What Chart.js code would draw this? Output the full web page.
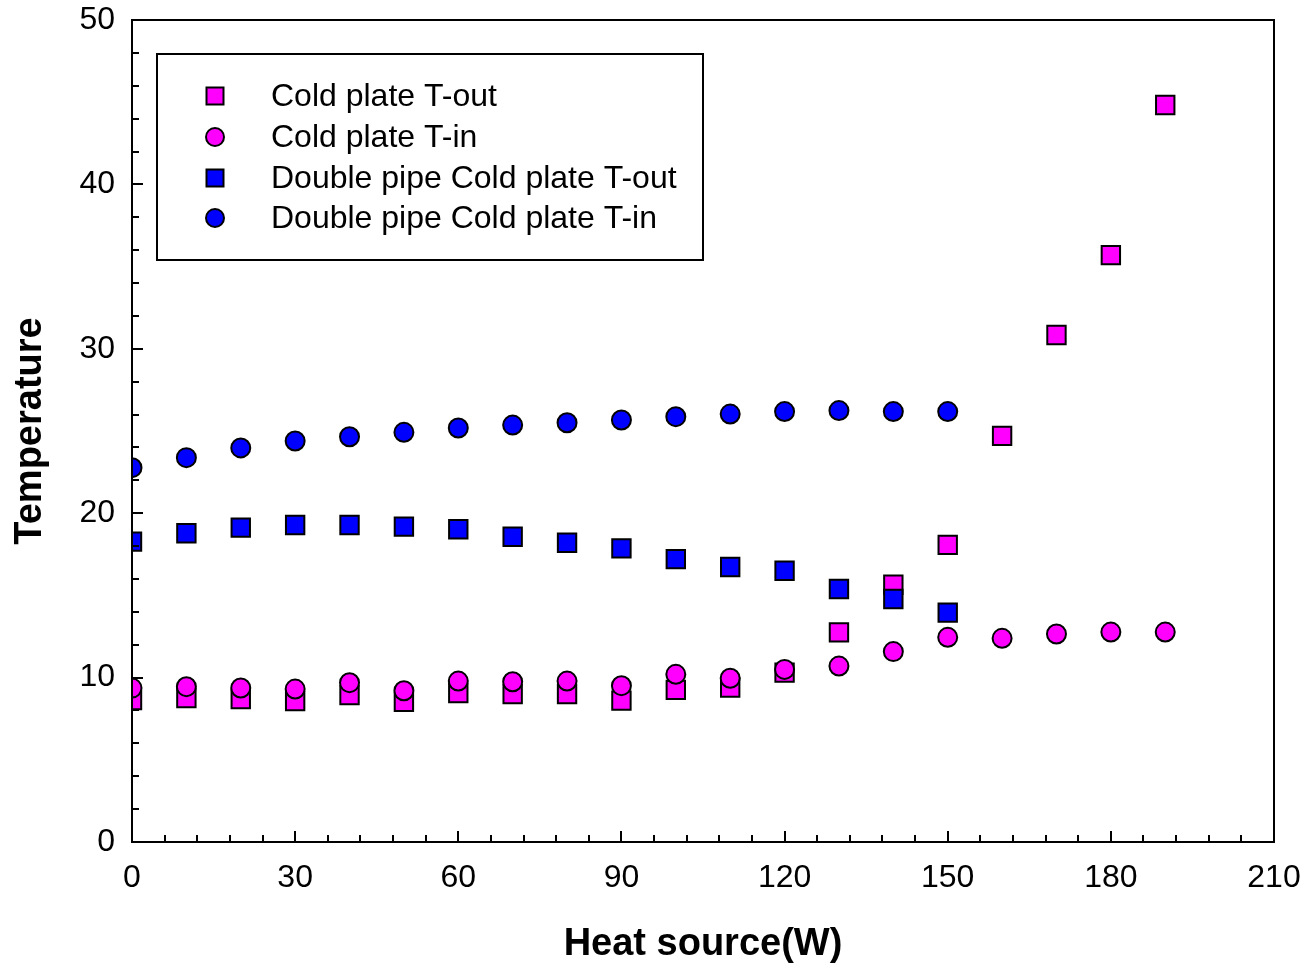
<!DOCTYPE html>
<html>
<head>
<meta charset="utf-8">
<script src="https://cdn.jsdelivr.net/npm/chart.js@4/dist/chart.umd.min.js"></script>
<style>
  body { margin: 0; background: #fff; }
</style>
</head>
<body>
<canvas id="tempChart" width="1305" height="967"></canvas>
<script>
// data
var heatSource = [0, 10, 20, 30, 40, 50, 60, 70, 80, 90, 100, 110, 120, 130, 140, 150, 160, 170, 180, 190];
var coldOut = [8.64, 8.76, 8.7, 8.58, 8.94, 8.52, 9.06, 9.0, 9.0, 8.6, 9.25, 9.4, 10.3, 12.75, 15.65, 18.07, 24.7, 30.84, 35.7, 44.83];
var coldIn = [9.36, 9.45, 9.37, 9.3, 9.69, 9.2, 9.79, 9.75, 9.79, 9.51, 10.2, 9.96, 10.5, 10.7, 11.58, 12.45, 12.39, 12.65, 12.77, 12.77];
var doubleOut = [18.27, 18.78, 19.12, 19.28, 19.28, 19.18, 19.02, 18.57, 18.2, 17.86, 17.21, 16.73, 16.5, 15.39, 14.78, 13.95];
var doubleIn = [22.77, 23.38, 23.97, 24.39, 24.65, 24.92, 25.18, 25.36, 25.5, 25.67, 25.87, 26.03, 26.18, 26.24, 26.18, 26.18];

var xTicks = { min: 0, max: 210, major: 30, minor: 6 };
var yTicks = { min: 0, max: 50, major: 10, minor: 2 };

var MAGENTA = '#ff00ff';
var BLUE = '#0000ff';
var FONT = "'Liberation Sans', Arial, sans-serif";

function points(vals) {
    return vals.map(function (v, i) { return { x: heatSource[i], y: v }; });
}

function series(label, vals, color, style, order) {
    var r = style === 'rect' ? 13 : 9.5;
    return {
        label: label,
        data: points(vals),
        pointStyle: style,
        pointRadius: r,
        pointHoverRadius: r,
        backgroundColor: color,
        borderColor: '#000',
        pointBorderWidth: 2,
        showLine: false,
        order: order
    };
}

// frame, inward ticks (major + minor) and the boxed legend
var framePlugin = {
    id: 'frame',
    afterDraw: function (chart) {
        var ctx = chart.ctx;
        var a = chart.chartArea;
        var xs = chart.scales.x, ys = chart.scales.y;
        ctx.save();
        ctx.strokeStyle = '#000';
        ctx.lineWidth = 2;
        ctx.strokeRect(a.left, a.top, a.right - a.left, a.bottom - a.top);

        ctx.beginPath();
        for (var v = xTicks.min; v <= xTicks.max; v += xTicks.minor) {
            var px = Math.round(xs.getPixelForValue(v));
            var len = v % xTicks.major === 0 ? 11 : 7;
            ctx.moveTo(px, a.bottom);
            ctx.lineTo(px, a.bottom - len);
        }
        for (var w = yTicks.min; w <= yTicks.max; w += yTicks.minor) {
            var py = Math.round(ys.getPixelForValue(w));
            var l2 = w % yTicks.major === 0 ? 11 : 7;
            ctx.moveTo(a.left, py);
            ctx.lineTo(a.left + l2, py);
        }
        ctx.stroke();

        // legend
        ctx.fillStyle = '#fff';
        ctx.fillRect(157, 54, 546, 206);
        ctx.strokeRect(157, 54, 546, 206);
        var rows = [96, 137, 178, 218];
        ctx.font = '32px ' + FONT;
        ctx.textBaseline = 'middle';
        chart.data.datasets.forEach(function (ds, i) {
            var cy = rows[i];
            ctx.fillStyle = ds.backgroundColor;
            ctx.strokeStyle = '#000';
            ctx.lineWidth = 2;
            ctx.beginPath();
            if (ds.pointStyle === 'rect') {
                ctx.rect(206.5, cy - 8.5, 17, 17);
            } else {
                ctx.arc(215, cy, 9, 0, Math.PI * 2);
            }
            ctx.fill();
            ctx.stroke();
            ctx.fillStyle = '#000';
            ctx.fillText(ds.label, 271, cy + 1);
        });
        ctx.restore();
    }
};

new Chart(document.getElementById('tempChart').getContext('2d'), {
    type: 'scatter',
    data: {
        datasets: [
            series('Cold plate T-out', coldOut, MAGENTA, 'rect', 4),
            series('Cold plate T-in', coldIn, MAGENTA, 'circle', 3),
            series('Double pipe Cold plate T-out', doubleOut, BLUE, 'rect', 2),
            series('Double pipe Cold plate T-in', doubleIn, BLUE, 'circle', 1)
        ]
    },
    options: {
        responsive: false,
        animation: false,
        devicePixelRatio: 1,
        layout: { padding: { top: 20, right: 31, left: 0, bottom: 0 } },
        plugins: {
            legend: { display: false },
            tooltip: { enabled: false }
        },
        scales: {
            x: {
                type: 'linear',
                min: xTicks.min,
                max: xTicks.max,
                grid: { display: false, drawTicks: false },
                border: { display: false },
                ticks: {
                    stepSize: xTicks.major,
                    padding: 17,
                    color: '#000',
                    font: { family: FONT, size: 32 },
                    maxRotation: 0
                },
                title: {
                    display: true,
                    text: 'Heat source(W)',
                    color: '#000',
                    font: { family: FONT, size: 38, weight: 'bold' },
                    padding: { top: 0, bottom: 0 }
                },
                afterFit: function (s) {
                    s.height = 125;
                    s.paddingLeft = 0;
                    s.paddingRight = 0;
                }
            },
            y: {
                min: yTicks.min,
                max: yTicks.max,
                grid: { display: false, drawTicks: false },
                border: { display: false },
                ticks: {
                    stepSize: yTicks.major,
                    padding: 17,
                    color: '#000',
                    font: { family: FONT, size: 32 }
                },
                title: {
                    display: true,
                    text: 'Temperature',
                    color: '#000',
                    font: { family: FONT, size: 38, weight: 'bold' },
                    padding: { top: 8, bottom: 0 }
                },
                afterFit: function (s) {
                    s.width = 132;
                    s.paddingTop = 0;
                    s.paddingBottom = 0;
                }
            }
        }
    },
    plugins: [framePlugin]
});
</script>
</body>
</html>
